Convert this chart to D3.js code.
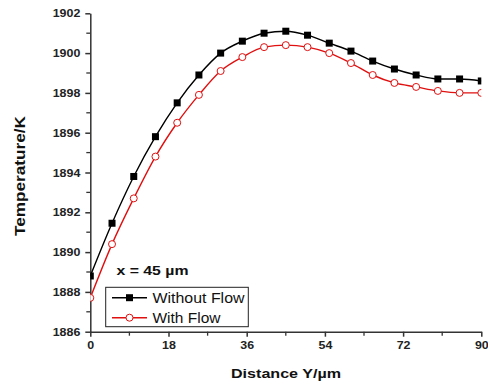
<!DOCTYPE html>
<html><head><meta charset="utf-8">
<script src="https://cdn.jsdelivr.net/npm/d3@7"></script>
<style>body{margin:0;background:#fff}svg{display:block}</style>
</head><body>
<script>
const distance = [0,5,10,15,20,25,30,35,40,45,50,55,60,65,70,75,80,85,90];
const withoutFlow = [1888.8,1891.45,1893.8,1895.8,1897.5,1898.9,1900.0,1900.6,1901.0,1901.1,1900.9,1900.5,1900.1,1899.6,1899.2,1898.9,1898.7,1898.7,1898.6];
const withFlow = [1887.7,1890.4,1892.7,1894.8,1896.5,1897.9,1899.1,1899.8,1900.3,1900.4,1900.3,1900.0,1899.5,1898.9,1898.5,1898.3,1898.1,1898.0,1898.0];
const xTicks = [0,18,36,54,72,90];
const yTicks = [1886,1888,1890,1892,1894,1896,1898,1900,1902];
const seriesNames = ["Without Flow","With Flow"];

const W=488,H=386;
const L=90.3,R=481.3,T=13.3,B=331.7;
const svg=d3.select("body").append("svg").attr("width",W).attr("height",H);
const x=d3.scaleLinear().domain([0,90]).range([L,R]);
const y=d3.scaleLinear().domain([1886,1902]).range([B,T]);
const font="Arial, 'Liberation Sans', sans-serif";
const axCol="#333";
function stretch(sel,f){
  sel.each(function(){const w=this.getComputedTextLength();d3.select(this).attr("textLength",w*f).attr("lengthAdjust","spacingAndGlyphs");});
}

svg.append("defs").append("clipPath").attr("id","clip").append("rect")
  .attr("x",L).attr("y",T-10).attr("width",R-L).attr("height",B-T+10);

// minor ticks
const g=svg.append("g");
d3.range(1887,1902,2).forEach(v=>{
  g.append("line").attr("x1",L-4).attr("x2",L).attr("y1",y(v)).attr("y2",y(v)).attr("stroke",axCol).attr("stroke-width",1.3);
});
d3.range(9,90,18).forEach(v=>{
  g.append("line").attr("x1",x(v)).attr("x2",x(v)).attr("y1",B).attr("y2",B+4).attr("stroke",axCol).attr("stroke-width",1.3);
});

const xAxis=svg.append("g").attr("transform",`translate(0,${B})`)
  .call(d3.axisBottom(x).tickValues(xTicks).tickFormat(d3.format("d")).tickSize(5).tickPadding(4).tickSizeOuter(0));
const yAxis=svg.append("g").attr("transform",`translate(${L},0)`)
  .call(d3.axisLeft(y).tickValues(yTicks).tickFormat(d3.format("d")).tickSize(5).tickPadding(5).tickSizeOuter(0));
[xAxis,yAxis].forEach(a=>{
  a.selectAll("path,line").attr("stroke",axCol).attr("stroke-width",1.5);
  a.selectAll("text").attr("font-family",font).attr("font-weight","bold").attr("font-size",11.5).attr("fill","#222");
  a.select(".domain").attr("fill","none");
});
stretch(xAxis.selectAll("text"),1.08);
stretch(yAxis.selectAll("text"),1.08);

const plot=svg.append("g").attr("clip-path","url(#clip)");
const line=d3.line().x((d,i)=>x(distance[i])).y(d=>y(d)).curve(d3.curveMonotoneX);
plot.append("path").datum(withoutFlow).attr("d",line).attr("fill","none").attr("stroke","#000").attr("stroke-width",1.4);
plot.append("path").datum(withFlow).attr("d",line).attr("fill","none").attr("stroke","#e01010").attr("stroke-width",1.4);
plot.selectAll(".sq").data(withoutFlow).enter().append("rect")
  .attr("x",(d,i)=>x(distance[i])-3.5).attr("y",d=>y(d)-3.5).attr("width",7).attr("height",7).attr("fill","#000");
plot.selectAll(".ci").data(withFlow).enter().append("circle")
  .attr("cx",(d,i)=>x(distance[i])).attr("cy",d=>y(d)).attr("r",3.5).attr("fill","#fff").attr("stroke","#e01010").attr("stroke-width",1);

// titles
svg.append("text").attr("transform","translate(25,176) rotate(-90)").attr("text-anchor","middle")
  .attr("font-family",font).attr("font-weight","bold").attr("font-size",14).attr("fill","#111")
  .attr("textLength",120).attr("lengthAdjust","spacingAndGlyphs").text("Temperature/K");
svg.append("text").attr("x",286).attr("y",378).attr("text-anchor","middle")
  .attr("font-family",font).attr("font-weight","bold").attr("font-size",13.5).attr("fill","#111")
  .attr("textLength",110).attr("lengthAdjust","spacingAndGlyphs").text("Distance Y/\u00b5m");
svg.append("text").attr("x",116.5).attr("y",275).attr("font-family",font).attr("font-weight","bold").attr("font-size",13.5).attr("fill","#111")
  .attr("textLength",72).attr("lengthAdjust","spacingAndGlyphs").text("x = 45 \u00b5m");

// legend
const lg=svg.append("g");
lg.append("rect").attr("x",105.7).attr("y",287.3).attr("width",142.6).attr("height",39.4).attr("fill","#fff").attr("stroke","#222").attr("stroke-width",1);
const ly=[297.7,317.7];
const lw=[92,68];
lg.append("line").attr("x1",112).attr("x2",147).attr("y1",ly[0]).attr("y2",ly[0]).attr("stroke","#000").attr("stroke-width",1.4);
lg.append("rect").attr("x",126).attr("y",ly[0]-3.5).attr("width",7).attr("height",7).attr("fill","#000");
lg.append("line").attr("x1",112).attr("x2",147).attr("y1",ly[1]).attr("y2",ly[1]).attr("stroke","#e01010").attr("stroke-width",1.4);
lg.append("circle").attr("cx",129.5).attr("cy",ly[1]).attr("r",3.5).attr("fill","#fff").attr("stroke","#e01010");
seriesNames.forEach((n,i)=>{
  lg.append("text").attr("x",152.5).attr("y",ly[i]+5).attr("font-family",font).attr("font-size",14).attr("fill","#111")
    .attr("textLength",lw[i]).attr("lengthAdjust","spacingAndGlyphs").text(n);
});
</script>
</body></html>
